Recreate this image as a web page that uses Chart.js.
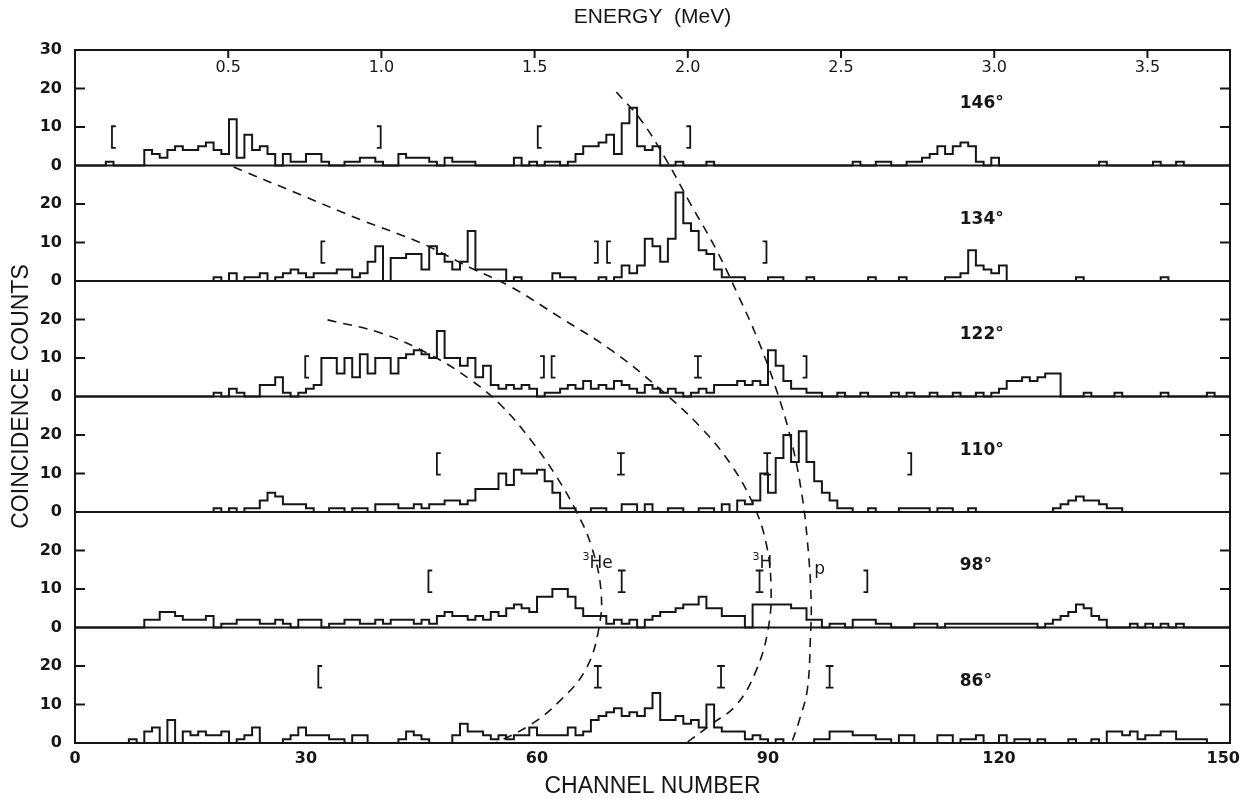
<!DOCTYPE html>
<html><head><meta charset="utf-8">
<script src="https://cdn.jsdelivr.net/npm/chart.js@4"></script>
<style>html,body{margin:0;padding:0;background:#fff}#wrap{width:1241px;height:799px}</style>
</head><body><div id="wrap"><canvas id="c" width="1241" height="799"></canvas></div>
<script>
// ---------------- data ----------------
const angleLabels = ['146°', '134°', '122°', '110°', '98°', '86°'];
const channelTicks = [0, 30, 60, 90, 120, 150];
const energyTicks = [0.5, 1.0, 1.5, 2.0, 2.5, 3.0, 3.5];
const energyTickLabels = ['0.5', '1.0', '1.5', '2.0', '2.5', '3.0', '3.5'];
const mevPerChannel = 0.02513;

const counts146 = [
 0,0,0,0,0,1,0,0,0,0, 4,3,2,4,5,4,4,5,6,4, 3,12,2,8,4,5,3,0,3,1,
 1,3,3,1,0,0,1,1,2,2, 1,0,0,3,2,2,2,1,0,2, 1,1,1,0,0,0,0,0,2,0,
 1,0,1,1,0,1,3,5,5,6, 8,3,11,15,5,4,5,0,0,1, 0,0,0,1,0,0,0,0,0,0,
 0,0,0,0,0,0,0,0,0,0, 0,0,1,0,0,1,1,0,0,1, 1,2,3,5,3,5,6,5,1,0,
 2,0,0,0,0,0,0,0,0,0, 0,0,0,0,1,0,0,0,0,0, 0,1,0,0,1,0,0,0,0,0];
const counts134 = [
 0,0,0,0,0,0,0,0,0,0, 0,0,0,0,0,0,0,0,0,1, 0,2,0,1,1,2,0,1,2,3,
 2,1,2,2,2,3,3,1,2,5, 9,0,6,6,7,7,3,9,7,5, 3,5,13,3,3,3,3,0,1,0,
 0,0,0,2,1,1,0,0,0,1, 0,1,4,2,4,11,9,5,11,23, 15,13,8,7,3,1,1,1,0,0,
 0,1,1,0,0,0,1,0,0,0, 0,0,0,0,1,0,0,0,1,0, 0,0,0,0,1,1,2,8,4,3,
 2,4,0,0,0,0,0,0,0,0, 0,1,0,0,0,0,0,0,0,0, 0,0,1,0,0,0,0,0,0,0];
const counts122 = [
 0,0,0,0,0,0,0,0,0,0, 0,0,0,0,0,0,0,0,0,1, 0,2,1,0,0,3,3,5,1,0,
 1,2,3,10,10,6,10,5,11,6, 10,10,6,10,11,12,11,10,17,10, 10,8,10,5,8,3,2,3,2,3,
 2,0,1,1,2,3,2,4,2,3, 2,4,3,2,1,3,2,1,2,1, 0,1,2,1,3,3,3,4,3,4,
 3,12,8,4,2,2,1,1,0,0, 1,0,0,1,0,0,0,1,0,1, 0,0,1,0,0,1,0,0,1,0,
 1,2,4,4,5,4,5,6,6,0, 0,0,1,0,0,0,1,0,0,0, 0,0,1,0,0,0,0,0,1,0];
const counts110 = [
 0,0,0,0,0,0,0,0,0,0, 0,0,0,0,0,0,0,0,0,1, 0,1,0,1,1,3,5,4,2,2,
 2,1,0,0,1,1,0,1,1,0, 2,2,2,1,1,2,1,2,2,3, 3,2,3,6,6,6,10,7,11,10,
 10,11,8,5,1,1,0,0,1,1, 0,0,2,2,0,2,0,0,1,1, 0,0,1,1,0,2,0,3,2,3,
 10,5,14,20,13,21,13,8,5,3, 1,1,0,0,1,0,0,0,1,1, 1,1,0,1,1,0,0,1,0,0,
 0,0,0,0,0,0,0,0,1,2, 3,4,3,3,2,1,1,0,0,0, 0,0,0,0,0,0,0,0,0,0];
const counts98 = [
 0,0,0,0,0,0,0,0,0,0, 2,2,4,4,3,2,2,2,3,0, 1,1,2,2,2,1,1,2,1,0,
 2,2,2,0,1,1,2,2,1,1, 2,1,2,2,2,1,2,1,3,4, 3,3,2,3,2,4,3,5,6,5,
 4,8,8,10,10,8,5,3,3,3, 1,2,1,2,0,2,3,4,4,5, 6,6,8,5,5,3,3,3,0,6,
 6,6,6,6,5,5,2,2,0,1, 1,0,2,2,2,1,1,0,0,0, 1,1,1,0,1,1,1,1,1,1,
 1,1,1,1,1,1,0,1,2,3, 4,6,5,3,2,0,0,0,1,0, 1,0,1,0,1,0,0,0,0,0];
const counts86 = [
 0,0,0,0,0,0,0,0,1,0, 3,4,0,6,0,3,2,3,2,2, 3,0,1,2,4,0,0,0,1,2,
 4,2,2,2,1,1,0,2,2,0, 0,0,0,1,3,2,1,0,0,0, 2,5,3,3,2,1,2,1,2,2,
 4,2,2,2,2,4,2,3,6,7, 8,9,7,8,7,9,13,6,6,7, 5,6,4,10,4,3,3,3,1,2,
 1,0,1,0,0,0,0,1,1,3, 3,3,2,2,2,1,1,0,2,2, 0,0,0,2,2,0,1,1,2,0,
 0,2,0,1,1,0,1,0,0,0, 1,0,0,1,0,3,3,2,3,1, 2,2,3,3,1,1,1,1,0,0];

// integration windows: channel of each bracket, its kind, and height (counts) of its centre
const windowChannels = [
 [4.8, 39.7, 60.1, 79.9],
 [32.0, 67.9, 69.1, 89.8],
 [29.9, 60.9, 61.9, 80.9, 95.0],
 [47.0, 70.9, 89.9, 108.6],
 [45.9, 71.0, 88.9, 102.9],
 [31.6, 67.9, 83.9, 98.0]];
const windowKinds = [
 ['[', ']', '[', ']'],
 ['[', ']', '[', ']'],
 ['[', ']', '[', 'I', ']'],
 ['[', 'I', 'I', ']'],
 ['[', 'I', 'I', ']'],
 ['[', 'I', 'I', 'I']];
const windowLevels = [7.4, 7.5, 7.7, 12.5, 12.0, 17.2];

// kinematic loci (channel, stacked-count height)
const locusHeCh = [32.8, 39.7, 46.2, 51.4, 55.3, 59.2, 62.4, 65.0, 67.0, 68.3, 68.0, 66.3, 63.1, 59.2, 54.2];
const locusHeY  = [109.9, 106.5, 100.8, 94.3, 87.8, 78.7, 69.6, 60.6, 51.5, 39.8, 29.4, 19.0, 11.2, 4.8, -0.4];
const locusHCh  = [20.6, 29.3, 37.1, 44.9, 51.4, 56.6, 63.1, 69.6, 76.1, 81.3, 85.2, 88.1, 89.8, 90.4, 90.0, 88.5, 85.9, 82.6, 79.1];
const locusHY   = [149.6, 142.4, 135.9, 129.9, 123.4, 118.5, 110.4, 102.1, 91.7, 81.9, 72.3, 61.9, 51.5, 39.8, 29.4, 19.0, 9.9, 4.8, -0.4];
const locusPCh  = [70.3, 73.5, 76.8, 80.0, 83.3, 86.1, 88.7, 91.1, 93.0, 94.3, 95.1, 95.6, 95.5, 95.1, 94.1, 93.0];
const locusPY   = [169.1, 161.8, 151.4, 139.8, 128.1, 116.4, 104.7, 91.7, 78.7, 65.8, 52.8, 37.2, 26.8, 13.8, 6.1, -0.4];
const locusLabels = ['He', 'H', 'p'];
const locusLabelCh = [65.9, 88.0, 96.0];
const locusLabelY = [46.5, 46.5, 45.0];

// ---------------- build ----------------
const panels = [counts146, counts134, counts122, counts110, counts98, counts86];
const PANEL = 30, NP = panels.length;
const INK = '#161616';
const baseOf = p => (NP - 1 - p) * PANEL;

const datasets = [];
panels.forEach((arr, p) => {
  const b = baseOf(p);
  const pts = arr.map((v, i) => ({x: i, y: b + v}));
  pts.push({x: arr.length, y: b + arr[arr.length - 1]});
  datasets.push({type: 'line', data: pts, stepped: 'after', borderColor: INK, borderWidth: 2,
    pointRadius: 0, fill: false, tension: 0});
});
function locus(chs, ys) {
  datasets.push({type: 'line', data: chs.map((c, i) => ({x: c, y: ys[i]})), borderColor: INK,
    borderWidth: 1.6, borderDash: [9, 7], pointRadius: 0, fill: false, tension: 0.4});
}
locus(locusHeCh, locusHeY); locus(locusHCh, locusHY); locus(locusPCh, locusPY);

windowChannels.forEach((chs, p) => {
  const b = baseOf(p) + windowLevels[p];
  chs.forEach((c, k) => {
    const kind = windowKinds[p][k], top = b + 2.8, bot = b - 2.8, s = 0.5;
    let pts;
    if (kind === '[') pts = [{x: c + s, y: top}, {x: c, y: top}, {x: c, y: bot}, {x: c + s, y: bot}];
    else if (kind === ']') pts = [{x: c - s, y: top}, {x: c, y: top}, {x: c, y: bot}, {x: c - s, y: bot}];
    else pts = [{x: c - s, y: top}, {x: c + s, y: top}, {x: c, y: null}, {x: c, y: top}, {x: c, y: bot},
                {x: c, y: null}, {x: c - s, y: bot}, {x: c + s, y: bot}];
    datasets.push({type: 'line', data: pts, borderColor: INK, borderWidth: 1.8, pointRadius: 0,
      fill: false, spanGaps: false, tension: 0});
  });
});

const FONT = "'DejaVu Sans', 'Liberation Sans', sans-serif";
const TFONT = "'Liberation Sans', 'DejaVu Sans', sans-serif";
const decor = {
  id: 'decor',
  afterDatasetsDraw(chart) {
    const {ctx, chartArea: a, scales} = chart;
    const x = scales.x, y = scales.y, xE = scales.xE;
    ctx.save();
    ctx.strokeStyle = INK; ctx.fillStyle = INK; ctx.lineWidth = 2;
    const seg = (x1, y1, x2, y2) => { ctx.beginPath(); ctx.moveTo(x1, y1); ctx.lineTo(x2, y2); ctx.stroke(); };
    ctx.strokeRect(a.left, a.top, a.right - a.left, a.bottom - a.top);
    for (let p = 0; p < NP; p++) {
      const py0 = y.getPixelForValue(p * PANEL);
      seg(a.left, py0, a.right, py0);
      [10, 20].forEach(t => {
        const py = y.getPixelForValue(p * PANEL + t);
        seg(a.left, py, a.left + 10, py); seg(a.right - 10, py, a.right, py);
      });
    }
    // channel-number tick labels (kept inside the canvas at the right edge)
    ctx.font = 'bold 16px ' + FONT; ctx.textAlign = 'center'; ctx.textBaseline = 'middle';
    const W = chart.width;
    channelTicks.forEach(v => {
      const t = String(v), w = ctx.measureText(t).width;
      const cx = Math.min(x.getPixelForValue(v), W - w / 2 - 1);
      ctx.fillText(t, cx, a.bottom + 16);
    });
    ctx.font = '16px ' + FONT;
    energyTicks.forEach((e, i) => {
      const px = xE.getPixelForValue(e);
      seg(px, a.top, px, a.top + 8);
      ctx.fillText(energyTickLabels[i], px, a.top + 18);
    });
    ctx.font = 'bold 17px ' + FONT; ctx.textAlign = 'left';
    angleLabels.forEach((t, p) => {
      ctx.fillText(t, x.getPixelForValue(114.9), y.getPixelForValue(baseOf(p) + 16));
    });
    locusLabels.forEach((t, i) => {
      const px = x.getPixelForValue(locusLabelCh[i]), py = y.getPixelForValue(locusLabelY[i]);
      ctx.font = '17px ' + FONT; ctx.textAlign = 'left';
      let off = 0;
      if (t !== 'p') { ctx.font = '11px ' + FONT; ctx.fillText('3', px, py - 7); off = 7; ctx.font = '17px ' + FONT; }
      ctx.fillText(t, px + off, py);
    });
    ctx.restore();
  }
};

new Chart(document.getElementById('c'), {
  type: 'line',
  data: {datasets},
  options: {
    responsive: false, animation: false, devicePixelRatio: 1,
    layout: {padding: {left: 0, right: 11, top: 0, bottom: 0}},
    plugins: {legend: {display: false}, tooltip: {enabled: false}},
    scales: {
      x: {type: 'linear', position: 'bottom', min: 0, max: 150,
        afterBuildTicks: s => { s.ticks = channelTicks.map(v => ({value: v})); },
        ticks: {display: false},
        grid: {display: false}, border: {display: false},
        title: {display: true, text: 'CHANNEL NUMBER', color: INK,
          font: {family: TFONT, size: 23, lineHeight: 1.0}, padding: {top: 0, bottom: 1}},
        afterFit: s => { s.height = 56; s.paddingLeft = 0; s.paddingRight = 0; }},
      xE: {type: 'linear', position: 'top', min: 0, max: 150 * mevPerChannel,
        ticks: {display: false}, grid: {display: false}, border: {display: false},
        title: {display: true, text: 'ENERGY  (MeV)', color: INK,
          font: {family: TFONT, size: 21}, padding: {top: 5, bottom: 0}},
        afterFit: s => { s.height = 50; s.paddingLeft = 0; s.paddingRight = 0; }},
      y: {type: 'linear', min: 0, max: PANEL * NP,
        afterBuildTicks: s => { const t = []; for (let v = 0; v <= PANEL * NP; v += 10) t.push({value: v}); s.ticks = t; },
        ticks: {font: {family: FONT, size: 16, weight: 'bold'}, color: INK, padding: 5,
          callback: v => (v === PANEL * NP ? '30' : String(v % PANEL))},
        grid: {display: false}, border: {display: false},
        title: {display: true, text: 'COINCIDENCE COUNTS', color: INK,
          font: {family: TFONT, size: 23}, padding: {top: 8, bottom: 0}},
        afterFit: s => { s.width = 75; s.paddingTop = 0; s.paddingBottom = 0; }}
    }
  },
  plugins: [decor]
});
</script>
</body></html>
